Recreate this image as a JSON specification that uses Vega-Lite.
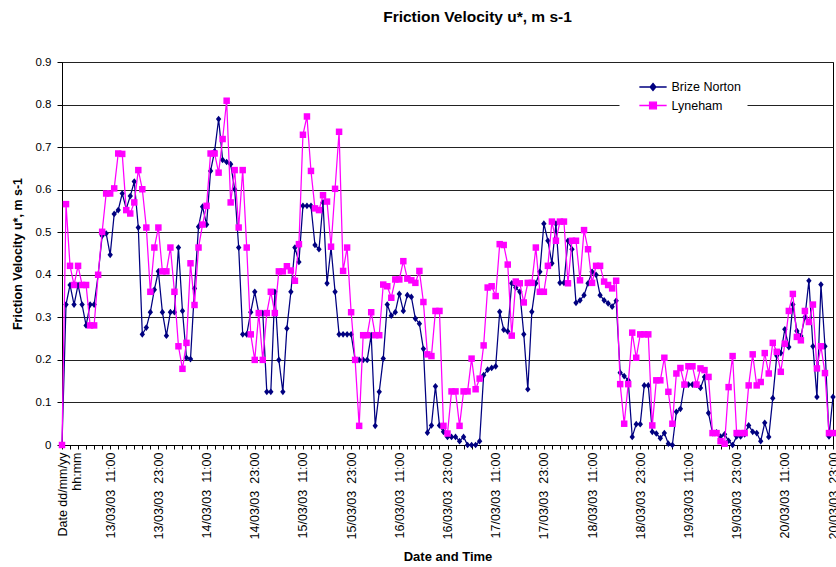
{
  "$schema": "https://vega.github.io/schema/vega-lite/v6.json",
  "width": 771,
  "height": 383,
  "autosize": "none",
  "padding": {"left": 62, "top": 62, "right": 3, "bottom": 122},
  "background": "white",
  "title": {"text": "Friction Velocity u*, m s-1", "font": "Liberation Sans", "fontSize": 15.5, "fontWeight": "bold", "color": "black", "anchor": "middle", "offset": 31, "dx": 30},
  "config": {"view": {"stroke": "black", "strokeWidth": 1}},
  "data": {"values": [
    {"t":"Date dd/mm/yy hh:mm","Brize Norton":0,"Lyneham":0},
    {"t":"13/03/03 00:00","Brize Norton":0.33,"Lyneham":0.566},
    {"t":"13/03/03 01:00","Brize Norton":0.376,"Lyneham":0.421},
    {"t":"13/03/03 02:00","Brize Norton":0.33,"Lyneham":0.376},
    {"t":"13/03/03 03:00","Brize Norton":0.376,"Lyneham":0.421},
    {"t":"13/03/03 04:00","Brize Norton":0.33,"Lyneham":0.376},
    {"t":"13/03/03 05:00","Brize Norton":0.281,"Lyneham":0.376},
    {"t":"13/03/03 06:00","Brize Norton":0.33,"Lyneham":0.281},
    {"t":"13/03/03 07:00","Brize Norton":0.33,"Lyneham":0.281},
    {"t":"13/03/03 08:00","Brize Norton":0.40,"Lyneham":0.40},
    {"t":"13/03/03 09:00","Brize Norton":0.492,"Lyneham":0.501},
    {"t":"13/03/03 10:00","Brize Norton":0.497,"Lyneham":0.591},
    {"t":"13/03/03 11:00","Brize Norton":0.447,"Lyneham":0.591},
    {"t":"13/03/03 12:00","Brize Norton":0.543,"Lyneham":0.603},
    {"t":"13/03/03 13:00","Brize Norton":0.552,"Lyneham":0.685},
    {"t":"13/03/03 14:00","Brize Norton":0.591,"Lyneham":0.684},
    {"t":"13/03/03 15:00","Brize Norton":0.555,"Lyneham":0.552},
    {"t":"13/03/03 16:00","Brize Norton":0.585,"Lyneham":0.544},
    {"t":"13/03/03 17:00","Brize Norton":0.619,"Lyneham":0.57},
    {"t":"13/03/03 18:00","Brize Norton":0.511,"Lyneham":0.646},
    {"t":"13/03/03 19:00","Brize Norton":0.26,"Lyneham":0.601},
    {"t":"13/03/03 20:00","Brize Norton":0.276,"Lyneham":0.511},
    {"t":"13/03/03 21:00","Brize Norton":0.312,"Lyneham":0.36},
    {"t":"13/03/03 22:00","Brize Norton":0.365,"Lyneham":0.464},
    {"t":"13/03/03 23:00","Brize Norton":0.408,"Lyneham":0.511},
    {"t":"14/03/03 00:00","Brize Norton":0.312,"Lyneham":0.408},
    {"t":"14/03/03 01:00","Brize Norton":0.257,"Lyneham":0.408},
    {"t":"14/03/03 02:00","Brize Norton":0.312,"Lyneham":0.464},
    {"t":"14/03/03 03:00","Brize Norton":0.312,"Lyneham":0.36},
    {"t":"14/03/03 04:00","Brize Norton":0.464,"Lyneham":0.232},
    {"t":"14/03/03 05:00","Brize Norton":0.315,"Lyneham":0.179},
    {"t":"14/03/03 06:00","Brize Norton":0.205,"Lyneham":0.24},
    {"t":"14/03/03 07:00","Brize Norton":0.202,"Lyneham":0.427},
    {"t":"14/03/03 08:00","Brize Norton":0.368,"Lyneham":0.329},
    {"t":"14/03/03 09:00","Brize Norton":0.513,"Lyneham":0.464},
    {"t":"14/03/03 10:00","Brize Norton":0.56,"Lyneham":0.518},
    {"t":"14/03/03 11:00","Brize Norton":0.518,"Lyneham":0.562},
    {"t":"14/03/03 12:00","Brize Norton":0.644,"Lyneham":0.685},
    {"t":"14/03/03 13:00","Brize Norton":0.69,"Lyneham":0.685},
    {"t":"14/03/03 14:00","Brize Norton":0.766,"Lyneham":0.64},
    {"t":"14/03/03 15:00","Brize Norton":0.67,"Lyneham":0.719},
    {"t":"14/03/03 16:00","Brize Norton":0.665,"Lyneham":0.809},
    {"t":"14/03/03 17:00","Brize Norton":0.66,"Lyneham":0.57},
    {"t":"14/03/03 18:00","Brize Norton":0.601,"Lyneham":0.646},
    {"t":"14/03/03 19:00","Brize Norton":0.464,"Lyneham":0.511},
    {"t":"14/03/03 20:00","Brize Norton":0.26,"Lyneham":0.646},
    {"t":"14/03/03 21:00","Brize Norton":0.26,"Lyneham":0.464},
    {"t":"14/03/03 22:00","Brize Norton":0.312,"Lyneham":0.26},
    {"t":"14/03/03 23:00","Brize Norton":0.36,"Lyneham":0.2},
    {"t":"15/03/03 00:00","Brize Norton":0.31,"Lyneham":0.31},
    {"t":"15/03/03 01:00","Brize Norton":0.31,"Lyneham":0.2},
    {"t":"15/03/03 02:00","Brize Norton":0.125,"Lyneham":0.31},
    {"t":"15/03/03 03:00","Brize Norton":0.125,"Lyneham":0.36},
    {"t":"15/03/03 04:00","Brize Norton":0.36,"Lyneham":0.31},
    {"t":"15/03/03 05:00","Brize Norton":0.2,"Lyneham":0.408},
    {"t":"15/03/03 06:00","Brize Norton":0.125,"Lyneham":0.408},
    {"t":"15/03/03 07:00","Brize Norton":0.274,"Lyneham":0.42},
    {"t":"15/03/03 08:00","Brize Norton":0.36,"Lyneham":0.41},
    {"t":"15/03/03 09:00","Brize Norton":0.464,"Lyneham":0.386},
    {"t":"15/03/03 10:00","Brize Norton":0.43,"Lyneham":0.472},
    {"t":"15/03/03 11:00","Brize Norton":0.562,"Lyneham":0.729},
    {"t":"15/03/03 12:00","Brize Norton":0.562,"Lyneham":0.772},
    {"t":"15/03/03 13:00","Brize Norton":0.562,"Lyneham":0.644},
    {"t":"15/03/03 14:00","Brize Norton":0.47,"Lyneham":0.556},
    {"t":"15/03/03 15:00","Brize Norton":0.46,"Lyneham":0.552},
    {"t":"15/03/03 16:00","Brize Norton":0.57,"Lyneham":0.587},
    {"t":"15/03/03 17:00","Brize Norton":0.38,"Lyneham":0.572},
    {"t":"15/03/03 18:00","Brize Norton":0.464,"Lyneham":0.466},
    {"t":"15/03/03 19:00","Brize Norton":0.36,"Lyneham":0.602},
    {"t":"15/03/03 20:00","Brize Norton":0.26,"Lyneham":0.736},
    {"t":"15/03/03 21:00","Brize Norton":0.26,"Lyneham":0.409},
    {"t":"15/03/03 22:00","Brize Norton":0.26,"Lyneham":0.464},
    {"t":"15/03/03 23:00","Brize Norton":0.26,"Lyneham":0.312},
    {"t":"16/03/03 00:00","Brize Norton":0.2,"Lyneham":0.2},
    {"t":"16/03/03 01:00","Brize Norton":0.2,"Lyneham":0.045},
    {"t":"16/03/03 02:00","Brize Norton":0.2,"Lyneham":0.258},
    {"t":"16/03/03 03:00","Brize Norton":0.2,"Lyneham":0.258},
    {"t":"16/03/03 04:00","Brize Norton":0.258,"Lyneham":0.312},
    {"t":"16/03/03 05:00","Brize Norton":0.045,"Lyneham":0.258},
    {"t":"16/03/03 06:00","Brize Norton":0.125,"Lyneham":0.258},
    {"t":"16/03/03 07:00","Brize Norton":0.203,"Lyneham":0.377},
    {"t":"16/03/03 08:00","Brize Norton":0.33,"Lyneham":0.373},
    {"t":"16/03/03 09:00","Brize Norton":0.304,"Lyneham":0.346},
    {"t":"16/03/03 10:00","Brize Norton":0.312,"Lyneham":0.389},
    {"t":"16/03/03 11:00","Brize Norton":0.355,"Lyneham":0.389},
    {"t":"16/03/03 12:00","Brize Norton":0.315,"Lyneham":0.432},
    {"t":"16/03/03 13:00","Brize Norton":0.352,"Lyneham":0.391},
    {"t":"16/03/03 14:00","Brize Norton":0.348,"Lyneham":0.387},
    {"t":"16/03/03 15:00","Brize Norton":0.297,"Lyneham":0.381},
    {"t":"16/03/03 16:00","Brize Norton":0.285,"Lyneham":0.409},
    {"t":"16/03/03 17:00","Brize Norton":0.226,"Lyneham":0.336},
    {"t":"16/03/03 18:00","Brize Norton":0.029,"Lyneham":0.213},
    {"t":"16/03/03 19:00","Brize Norton":0.046,"Lyneham":0.209},
    {"t":"16/03/03 20:00","Brize Norton":0.138,"Lyneham":0.315},
    {"t":"16/03/03 21:00","Brize Norton":0.046,"Lyneham":0.315},
    {"t":"16/03/03 22:00","Brize Norton":0.031,"Lyneham":0.045},
    {"t":"16/03/03 23:00","Brize Norton":0.019,"Lyneham":0.027},
    {"t":"17/03/03 00:00","Brize Norton":0.019,"Lyneham":0.126},
    {"t":"17/03/03 01:00","Brize Norton":0.019,"Lyneham":0.126},
    {"t":"17/03/03 02:00","Brize Norton":0.009,"Lyneham":0.045},
    {"t":"17/03/03 03:00","Brize Norton":0.019,"Lyneham":0.126},
    {"t":"17/03/03 04:00","Brize Norton":0,"Lyneham":0.126},
    {"t":"17/03/03 05:00","Brize Norton":0,"Lyneham":0.203},
    {"t":"17/03/03 06:00","Brize Norton":0,"Lyneham":0.131},
    {"t":"17/03/03 07:00","Brize Norton":0.009,"Lyneham":0.156},
    {"t":"17/03/03 08:00","Brize Norton":0.164,"Lyneham":0.234},
    {"t":"17/03/03 09:00","Brize Norton":0.177,"Lyneham":0.37},
    {"t":"17/03/03 10:00","Brize Norton":0.181,"Lyneham":0.373},
    {"t":"17/03/03 11:00","Brize Norton":0.185,"Lyneham":0.35},
    {"t":"17/03/03 12:00","Brize Norton":0.313,"Lyneham":0.472},
    {"t":"17/03/03 13:00","Brize Norton":0.271,"Lyneham":0.47},
    {"t":"17/03/03 14:00","Brize Norton":0.267,"Lyneham":0.424},
    {"t":"17/03/03 15:00","Brize Norton":0.38,"Lyneham":0.257},
    {"t":"17/03/03 16:00","Brize Norton":0.37,"Lyneham":0.384},
    {"t":"17/03/03 17:00","Brize Norton":0.36,"Lyneham":0.38},
    {"t":"17/03/03 18:00","Brize Norton":0.26,"Lyneham":0.335},
    {"t":"17/03/03 19:00","Brize Norton":0.131,"Lyneham":0.381},
    {"t":"17/03/03 20:00","Brize Norton":0.313,"Lyneham":0.381},
    {"t":"17/03/03 21:00","Brize Norton":0.38,"Lyneham":0.464},
    {"t":"17/03/03 22:00","Brize Norton":0.407,"Lyneham":0.36},
    {"t":"17/03/03 23:00","Brize Norton":0.52,"Lyneham":0.36},
    {"t":"18/03/03 00:00","Brize Norton":0.48,"Lyneham":0.421},
    {"t":"18/03/03 01:00","Brize Norton":0.427,"Lyneham":0.525},
    {"t":"18/03/03 02:00","Brize Norton":0.52,"Lyneham":0.48},
    {"t":"18/03/03 03:00","Brize Norton":0.381,"Lyneham":0.525},
    {"t":"18/03/03 04:00","Brize Norton":0.381,"Lyneham":0.525},
    {"t":"18/03/03 05:00","Brize Norton":0.48,"Lyneham":0.38},
    {"t":"18/03/03 06:00","Brize Norton":0.46,"Lyneham":0.48},
    {"t":"18/03/03 07:00","Brize Norton":0.334,"Lyneham":0.48},
    {"t":"18/03/03 08:00","Brize Norton":0.34,"Lyneham":0.387},
    {"t":"18/03/03 09:00","Brize Norton":0.352,"Lyneham":0.505},
    {"t":"18/03/03 10:00","Brize Norton":0.38,"Lyneham":0.46},
    {"t":"18/03/03 11:00","Brize Norton":0.407,"Lyneham":0.381},
    {"t":"18/03/03 12:00","Brize Norton":0.4,"Lyneham":0.421},
    {"t":"18/03/03 13:00","Brize Norton":0.352,"Lyneham":0.421},
    {"t":"18/03/03 14:00","Brize Norton":0.34,"Lyneham":0.384},
    {"t":"18/03/03 15:00","Brize Norton":0.333,"Lyneham":0.376},
    {"t":"18/03/03 16:00","Brize Norton":0.325,"Lyneham":0.368},
    {"t":"18/03/03 17:00","Brize Norton":0.339,"Lyneham":0.386},
    {"t":"18/03/03 18:00","Brize Norton":0.17,"Lyneham":0.143},
    {"t":"18/03/03 19:00","Brize Norton":0.162,"Lyneham":0.05},
    {"t":"18/03/03 20:00","Brize Norton":0.152,"Lyneham":0.143},
    {"t":"18/03/03 21:00","Brize Norton":0.019,"Lyneham":0.264},
    {"t":"18/03/03 22:00","Brize Norton":0.049,"Lyneham":0.205},
    {"t":"18/03/03 23:00","Brize Norton":0.049,"Lyneham":0.26},
    {"t":"19/03/03 00:00","Brize Norton":0.14,"Lyneham":0.26},
    {"t":"19/03/03 01:00","Brize Norton":0.14,"Lyneham":0.26},
    {"t":"19/03/03 02:00","Brize Norton":0.031,"Lyneham":0.046},
    {"t":"19/03/03 03:00","Brize Norton":0.027,"Lyneham":0.152},
    {"t":"19/03/03 04:00","Brize Norton":0.016,"Lyneham":0.152},
    {"t":"19/03/03 05:00","Brize Norton":0.028,"Lyneham":0.205},
    {"t":"19/03/03 06:00","Brize Norton":0.003,"Lyneham":0.125},
    {"t":"19/03/03 07:00","Brize Norton":0,"Lyneham":0.05},
    {"t":"19/03/03 08:00","Brize Norton":0.078,"Lyneham":0.168},
    {"t":"19/03/03 09:00","Brize Norton":0.085,"Lyneham":0.181},
    {"t":"19/03/03 10:00","Brize Norton":0.142,"Lyneham":0.142},
    {"t":"19/03/03 11:00","Brize Norton":0.142,"Lyneham":0.185},
    {"t":"19/03/03 12:00","Brize Norton":0.142,"Lyneham":0.185},
    {"t":"19/03/03 13:00","Brize Norton":0.142,"Lyneham":0.142},
    {"t":"19/03/03 14:00","Brize Norton":0.134,"Lyneham":0.18},
    {"t":"19/03/03 15:00","Brize Norton":0.16,"Lyneham":0.176},
    {"t":"19/03/03 16:00","Brize Norton":0.075,"Lyneham":0.16},
    {"t":"19/03/03 17:00","Brize Norton":0.028,"Lyneham":0.028},
    {"t":"19/03/03 18:00","Brize Norton":0.03,"Lyneham":0.028},
    {"t":"19/03/03 19:00","Brize Norton":0.02,"Lyneham":0.009},
    {"t":"19/03/03 20:00","Brize Norton":0.025,"Lyneham":0.003},
    {"t":"19/03/03 21:00","Brize Norton":0.01,"Lyneham":0.136},
    {"t":"19/03/03 22:00","Brize Norton":0,"Lyneham":0.209},
    {"t":"19/03/03 23:00","Brize Norton":0.02,"Lyneham":0.028},
    {"t":"20/03/03 00:00","Brize Norton":0.02,"Lyneham":0.028},
    {"t":"20/03/03 01:00","Brize Norton":0.025,"Lyneham":0.028},
    {"t":"20/03/03 02:00","Brize Norton":0.046,"Lyneham":0.14},
    {"t":"20/03/03 03:00","Brize Norton":0.031,"Lyneham":0.213},
    {"t":"20/03/03 04:00","Brize Norton":0.028,"Lyneham":0.14},
    {"t":"20/03/03 05:00","Brize Norton":0.009,"Lyneham":0.148},
    {"t":"20/03/03 06:00","Brize Norton":0.052,"Lyneham":0.216},
    {"t":"20/03/03 07:00","Brize Norton":0.019,"Lyneham":0.168},
    {"t":"20/03/03 08:00","Brize Norton":0.11,"Lyneham":0.24},
    {"t":"20/03/03 09:00","Brize Norton":0.21,"Lyneham":0.219},
    {"t":"20/03/03 10:00","Brize Norton":0.216,"Lyneham":0.172},
    {"t":"20/03/03 11:00","Brize Norton":0.272,"Lyneham":0.238},
    {"t":"20/03/03 12:00","Brize Norton":0.23,"Lyneham":0.315},
    {"t":"20/03/03 13:00","Brize Norton":0.33,"Lyneham":0.355},
    {"t":"20/03/03 14:00","Brize Norton":0.268,"Lyneham":0.254},
    {"t":"20/03/03 15:00","Brize Norton":0.256,"Lyneham":0.246},
    {"t":"20/03/03 16:00","Brize Norton":0.3,"Lyneham":0.315},
    {"t":"20/03/03 17:00","Brize Norton":0.386,"Lyneham":0.289},
    {"t":"20/03/03 18:00","Brize Norton":0.232,"Lyneham":0.33},
    {"t":"20/03/03 19:00","Brize Norton":0.113,"Lyneham":0.18},
    {"t":"20/03/03 20:00","Brize Norton":0.377,"Lyneham":0.232},
    {"t":"20/03/03 21:00","Brize Norton":0.232,"Lyneham":0.169},
    {"t":"20/03/03 22:00","Brize Norton":0.02,"Lyneham":0.028},
    {"t":"20/03/03 23:00","Brize Norton":0.113,"Lyneham":0.028}
  ]},
  "transform": [{"fold": ["Brize Norton", "Lyneham"], "as": ["series", "v"]}],
  "encoding": {
    "x": {
      "field": "t", "type": "ordinal", "sort": null,
      "scale": {"type": "point", "padding": 0},
      "axis": {
        "title": "Date and Time", "titleFont": "Liberation Sans", "titleFontSize": 13, "titleFontWeight": "bold", "titleColor": "black",
        "titleY": 111, "titleBaseline": "middle",
        "values": ["Date dd/mm/yy hh:mm",
          "13/03/03 01:00","13/03/03 03:00","13/03/03 05:00","13/03/03 07:00","13/03/03 09:00","13/03/03 11:00","13/03/03 13:00","13/03/03 15:00","13/03/03 17:00","13/03/03 19:00","13/03/03 21:00","13/03/03 23:00",
          "14/03/03 01:00","14/03/03 03:00","14/03/03 05:00","14/03/03 07:00","14/03/03 09:00","14/03/03 11:00","14/03/03 13:00","14/03/03 15:00","14/03/03 17:00","14/03/03 19:00","14/03/03 21:00","14/03/03 23:00",
          "15/03/03 01:00","15/03/03 03:00","15/03/03 05:00","15/03/03 07:00","15/03/03 09:00","15/03/03 11:00","15/03/03 13:00","15/03/03 15:00","15/03/03 17:00","15/03/03 19:00","15/03/03 21:00","15/03/03 23:00",
          "16/03/03 01:00","16/03/03 03:00","16/03/03 05:00","16/03/03 07:00","16/03/03 09:00","16/03/03 11:00","16/03/03 13:00","16/03/03 15:00","16/03/03 17:00","16/03/03 19:00","16/03/03 21:00","16/03/03 23:00",
          "17/03/03 01:00","17/03/03 03:00","17/03/03 05:00","17/03/03 07:00","17/03/03 09:00","17/03/03 11:00","17/03/03 13:00","17/03/03 15:00","17/03/03 17:00","17/03/03 19:00","17/03/03 21:00","17/03/03 23:00",
          "18/03/03 01:00","18/03/03 03:00","18/03/03 05:00","18/03/03 07:00","18/03/03 09:00","18/03/03 11:00","18/03/03 13:00","18/03/03 15:00","18/03/03 17:00","18/03/03 19:00","18/03/03 21:00","18/03/03 23:00",
          "19/03/03 01:00","19/03/03 03:00","19/03/03 05:00","19/03/03 07:00","19/03/03 09:00","19/03/03 11:00","19/03/03 13:00","19/03/03 15:00","19/03/03 17:00","19/03/03 19:00","19/03/03 21:00","19/03/03 23:00",
          "20/03/03 01:00","20/03/03 03:00","20/03/03 05:00","20/03/03 07:00","20/03/03 09:00","20/03/03 11:00","20/03/03 13:00","20/03/03 15:00","20/03/03 17:00","20/03/03 19:00","20/03/03 21:00","20/03/03 23:00"],
        "labelExpr": "datum.value === 'Date dd/mm/yy hh:mm' ? ['Date dd/mm/yy', 'hh:mm'] : (test(/ (11|23):00$/, datum.value) ? replace(datum.value, ' ', '\u00a0\u00a0') : '')",
        "labelAngle": -90, "labelAlign": "right", "labelBaseline": "middle",
        "labelFont": "Liberation Sans", "labelFontSize": 12.5, "labelColor": "black",
        "labelPadding": 3, "labelOverlap": false, "labelBound": false, "labelFlush": false,
        "tickSize": 4, "tickColor": "black", "domainColor": "black", "grid": false
      }
    },
    "y": {
      "field": "v", "type": "quantitative",
      "scale": {"domain": [0, 0.9], "nice": false, "zero": true},
      "axis": {
        "title": "Friction Velocity u*, m s-1", "titleFont": "Liberation Sans", "titleFontSize": 12.5, "titleFontWeight": "bold", "titleColor": "black",
        "titleX": -45, "titleY": 191.5, "titleAngle": -90, "titleAlign": "center", "titleBaseline": "middle",
        "values": [0, 0.1, 0.2, 0.3, 0.4, 0.5, 0.6, 0.7, 0.8, 0.9],
        "format": "~g",
        "labelFont": "Liberation Sans", "labelFontSize": 11.5, "labelColor": "black", "labelPadding": 6,
        "tickSize": 5, "tickColor": "black", "domainColor": "black",
        "grid": true, "gridColor": "#222", "gridWidth": 1
      }
    },
    "color": {
      "field": "series", "type": "nominal",
      "scale": {"domain": ["Brize Norton", "Lyneham"], "range": ["#000080", "#FF00FF"]},
      "legend": {
        "orient": "none", "legendX": 557.5, "legendY": 7.5, "title": null,
        "fillColor": "white", "padding": 6, "symbolOffset": 16, "labelOffset": 7, "rowPadding": 0.5,
        "symbolSize": 441, "labelFont": "Liberation Sans", "labelFontSize": 12.5, "labelColor": "black",
        "encode": {"symbols": {"update": {
          "shape": {"signal": "datum.value === 'Brize Norton' ? 'M-1.3,0H1.3M0,-0.33L0.27,0L0,0.33L-0.27,0Z' : 'M-1.3,0H1.3M-0.32,-0.32H0.32V0.32H-0.32Z'"},
          "fill": {"signal": "datum.value === 'Brize Norton' ? '#000080' : '#FF00FF'"},
          "stroke": {"signal": "datum.value === 'Brize Norton' ? '#000080' : '#FF00FF'"},
          "strokeWidth": {"value": 1.4},
          "size": {"value": 441},
          "opacity": {"value": 1},
          "fillOpacity": {"value": 1},
          "strokeOpacity": {"value": 1}
        }}}
      }
    }
  },
  "layer": [
    {"transform": [{"filter": "datum.series === 'Brize Norton'"}], "mark": {"type": "line", "strokeWidth": 1.25}},
    {"transform": [{"filter": "datum.series === 'Brize Norton'"}], "mark": {"type": "point", "shape": "M0,-1L0.8,0L0,1L-0.8,0Z", "filled": true, "size": 45, "opacity": 1}},
    {"transform": [{"filter": "datum.series === 'Lyneham'"}], "mark": {"type": "line", "strokeWidth": 1.25}},
    {"transform": [{"filter": "datum.series === 'Lyneham'"}], "mark": {"type": "point", "shape": "square", "filled": true, "size": 42, "opacity": 1}}
  ]
}
